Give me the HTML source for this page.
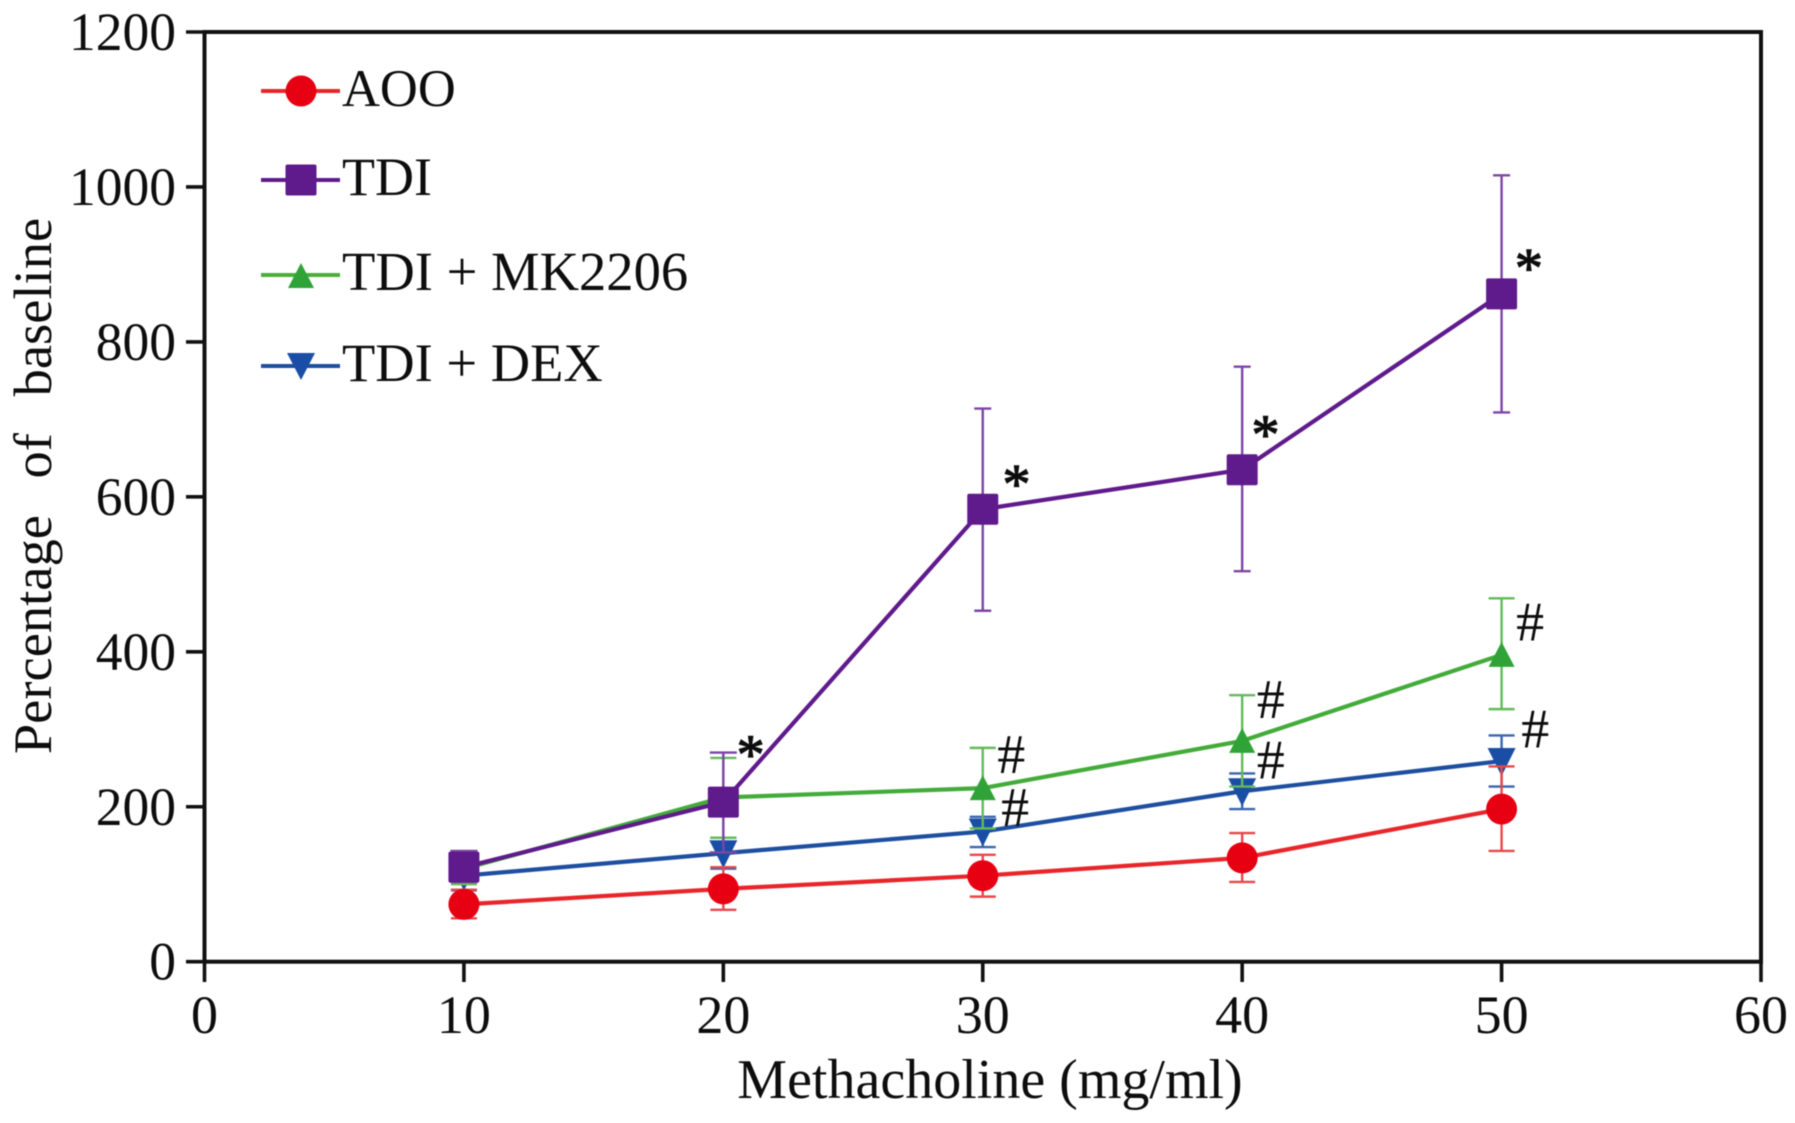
<!DOCTYPE html>
<html lang="en">
<head>
<meta charset="utf-8">
<title>Percentage of baseline vs Methacholine</title>
<style>
  html, body { margin: 0; padding: 0; background: #fff; }
  body { width: 1795px; height: 1123px; overflow: hidden; }
  svg { display: block; filter: blur(0.5px); }
  text { font-family: "Liberation Serif", "Times New Roman", serif; fill: #0d0d0d; }
</style>
</head>
<body>
<svg id="chart" xmlns="http://www.w3.org/2000/svg" width="1795" height="1123" viewBox="0 0 1795 1123">
  <rect x="0" y="0" width="1795" height="1123" fill="#ffffff"/>
  <g id="axes"></g>
  <g id="marks"></g>
  <g id="annotations"></g>
  <text x="990" y="1098" text-anchor="middle" font-size="56">Methacholine (mg/ml)</text>
  <text transform="translate(51,486) rotate(-90)" text-anchor="middle" font-size="54.5" word-spacing="23">Percentage of baseline</text>
  <g id="legend">
    <g>
      <line x1="261" x2="340" y1="91" y2="91" stroke="#e8262a" stroke-width="4"/>
      <circle cx="301" cy="91" r="15.5" fill="#e60012"/>
      <text x="342" y="106" font-size="52.5">AOO</text>
    </g>
    <g>
      <line x1="261" x2="340" y1="180" y2="180" stroke="#5f1a8c" stroke-width="4"/>
      <rect x="285.5" y="164.5" width="31" height="31" rx="2" fill="#5f1a8c"/>
      <text x="342" y="195" font-size="54">TDI</text>
    </g>
    <g>
      <line x1="261" x2="340" y1="275" y2="275" stroke="#4cae3a" stroke-width="4"/>
      <polygon points="301,263 314,288 288,288" fill="#2fa338"/>
      <text x="342" y="290" font-size="54.6">TDI + MK2206</text>
    </g>
    <g>
      <line x1="261" x2="340" y1="366" y2="366" stroke="#1d4ea0" stroke-width="4"/>
      <polygon points="287,353 315,353 301,380" fill="#1a4ea6"/>
      <text x="342" y="381" font-size="54.5">TDI + DEX</text>
    </g>
  </g>
</svg>
<script>
// ---- data ----
const doses = [10, 20, 30, 40, 50];

const aooMean  = [74, 94, 111, 134, 197];
const aooUpper = [93, 122, 138, 166, 252];
const aooLower = [56, 67, 84, 103, 143];

const tdiMean  = [122, 206, 584, 635, 862];
const tdiUpper = [143, 270, 714, 768, 1015];
const tdiLower = [103, 141, 453, 504, 709];

const mkMean  = [120, 212, 224, 285, 396];
const mkUpper = [140, 263, 276, 344, 469];
const mkLower = [100, 160, 172, 226, 326];

const dexMean  = [111, 140, 168, 220, 259];
const dexUpper = [130, 160, 187, 243, 292];
const dexLower = [92, 120, 148, 197, 226];

const xTickValues = [0, 10, 20, 30, 40, 50, 60];
const yTickValues = [0, 200, 400, 600, 800, 1000, 1200];

const annotationText = ['*', '*', '*', '*', '#', '#', '#', '#', '#', '#'];
const annotationDose = [21.05, 31.3, 40.9, 51.05, 31.1, 41.1, 51.1, 31.25, 41.1, 51.3];
const annotationLevel = [276, 625, 689, 904, 268, 339, 439, 200, 261, 301];

// ---- axis functions ----
const X0 = 204.5, Y0 = 961.7, TOP = 32, RIGHT = 1761;
function xScale(v) { return X0 + (v - 0) * (RIGHT - X0) / 60; }
function yScale(v) { return Y0 - (v - 0) * (Y0 - TOP) / 1200; }

const NS = 'http://www.w3.org/2000/svg';
function make(tag, parent, attrs) {
  const el = document.createElementNS(NS, tag);
  for (const k in attrs) el.setAttribute(k, attrs[k]);
  parent.appendChild(el);
  return el;
}

// ---- axes ----
const axes = document.getElementById('axes');
const frame = make('rect', axes, { x: X0, y: TOP, width: RIGHT - X0, height: Y0 - TOP, fill: 'none', stroke: '#111', 'stroke-width': 4 });



xTickValues.forEach(function (v) {
  const tick = make('line', axes, { x1: xScale(v), x2: xScale(v), y1: Y0, y2: 982, stroke: '#111', 'stroke-width': 3.6 });
  
  
  const label = make('text', axes, { x: xScale(v), y: 1033, 'text-anchor': 'middle', 'font-size': 54 });
  
  
  label.textContent = v;
});

yTickValues.forEach(function (v) {
  const tick = make('line', axes, { x1: 186, x2: X0, y1: yScale(v), y2: yScale(v), stroke: '#111', 'stroke-width': 3.6 });
  
  
  const label = make('text', axes, { x: 176, y: yScale(v) + 18, 'text-anchor': 'end', 'font-size': 53.5 });
  
  
  label.textContent = v;
});

// ---- series ----
function drawSeries(key, mean, upper, lower, lineColor, barColor, fillColor, shape, capWidth) {
  const marks = document.getElementById('marks');
  const group = make('g', marks, {});
  
  

  doses.forEach(function (d, i) {
    const x = xScale(d);
    const w = capWidth(i) / 2;
    const bar = make('path', group, {
      d: 'M' + x + ' ' + yScale(lower[i]) + 'V' + yScale(upper[i]) +
         'M' + (x - w) + ' ' + yScale(upper[i]) + 'H' + (x + w) +
         'M' + (x - w) + ' ' + yScale(lower[i]) + 'H' + (x + w),
      fill: 'none', stroke: barColor, 'stroke-width': 2.4
    });
    
    
  });

  const line = make('polyline', group, {
    points: doses.map(function (d, i) { return xScale(d) + ',' + yScale(mean[i]); }).join(' '),
    fill: 'none', stroke: lineColor, 'stroke-width': 4.2, 'stroke-linejoin': 'round'
  });
  
  

  doses.forEach(function (d, i) {
    const x = xScale(d), y = yScale(mean[i]);
    let m;
    if (shape === 'circle') {
      m = make('circle', group, { cx: x, cy: y, r: 15.5, fill: fillColor });
    } else if (shape === 'square') {
      m = make('rect', group, { x: x - 15.5, y: y - 15.5, width: 31, height: 31, rx: 2, fill: fillColor });
    } else if (shape === 'up') {
      m = make('polygon', group, { points: x + ',' + (y - 13) + ' ' + (x + 13) + ',' + (y + 12) + ' ' + (x - 13) + ',' + (y + 12), fill: fillColor });
    } else {
      m = make('polygon', group, { points: (x - 14) + ',' + (y - 13) + ' ' + (x + 14) + ',' + (y - 13) + ' ' + x + ',' + (y + 15), fill: fillColor });
    }
    
    
  });
}

drawSeries('tdi-dex', dexMean, dexUpper, dexLower, '#1d4ea0', '#3a66b0', '#1a4ea6', 'down', function () { return 26; });
drawSeries('aoo', aooMean, aooUpper, aooLower, '#e8262a', '#e8474a', '#e60012', 'circle', function () { return 26; });
drawSeries('tdi-mk2206', mkMean, mkUpper, mkLower, '#43ab3a', '#63bb5a', '#2fa338', 'up', function () { return 26; });
drawSeries('tdi', tdiMean, tdiUpper, tdiLower, '#5f1a8c', '#7d45a6', '#5f1a8c', 'square', function (i) { return i < 2 ? 27 : 17; });

// ---- significance marks ----
const annoGroup = document.getElementById('annotations');
annotationText.forEach(function (t, i) {
  const isStar = t === '*';
  const a = make('text', annoGroup, {
    x: xScale(annotationDose[i]),
    y: yScale(annotationLevel[i]) + (isStar ? 25 : 19),
    'text-anchor': 'middle',
    'font-size': isStar ? 56 : 56,
    stroke: isStar ? '#0d0d0d' : 'none',
    'stroke-width': isStar ? 1.2 : 0
  });
  
  
  a.textContent = t;
});
</script>
</body>
</html>
